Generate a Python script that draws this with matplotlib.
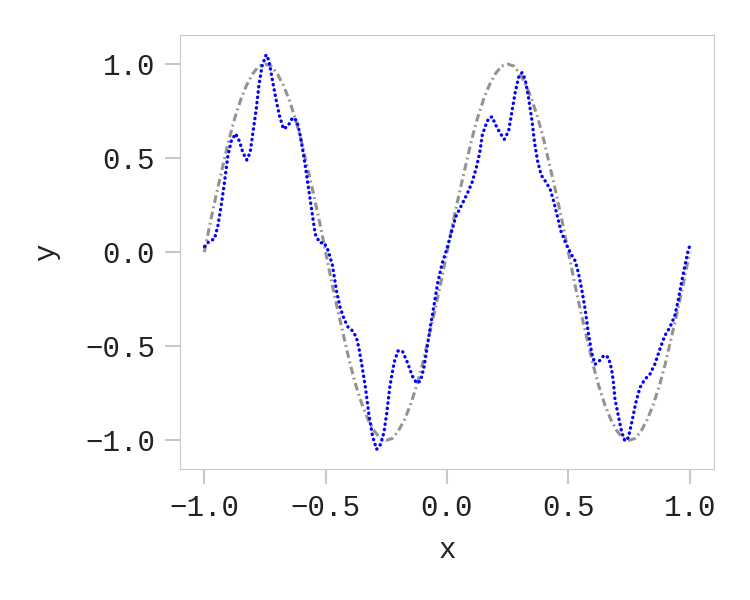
import matplotlib.pyplot as plt

plt.rcParams["font.family"] = ["Liberation Mono", "DejaVu Sans Mono"]

# true curve, read every 0.025 along x
true_x = [-1 + i * 0.025 for i in range(81)]
true_y = [0.00, 0.16, 0.31, 0.45, 0.59, 0.71, 0.81, 0.89, 0.95, 0.99,
          1.00, 0.99, 0.95, 0.89, 0.81, 0.71, 0.59, 0.45, 0.31, 0.16,
          0.00, -0.16, -0.31, -0.45, -0.59, -0.71, -0.81, -0.89, -0.95, -0.99,
          -1.00, -0.99, -0.95, -0.89, -0.81, -0.71, -0.59, -0.45, -0.31, -0.16,
          0.00, 0.16, 0.31, 0.45, 0.59, 0.71, 0.81, 0.89, 0.95, 0.99,
          1.00, 0.99, 0.95, 0.89, 0.81, 0.71, 0.59, 0.45, 0.31, 0.16,
          0.00, -0.16, -0.31, -0.45, -0.59, -0.71, -0.81, -0.89, -0.95, -0.99,
          -1.00, -0.99, -0.95, -0.89, -0.81, -0.71, -0.59, -0.45, -0.31, -0.16,
          0.00]

# fitted curve (blue dots)
fit_x = [-0.999, -0.978, -0.958, -0.944, -0.930, -0.917, -0.903, -0.889, -0.871, -0.855,
         -0.841, -0.825, -0.811, -0.798, -0.786, -0.775, -0.762, -0.745, -0.734, -0.720,
         -0.704, -0.690, -0.674, -0.656, -0.636, -0.619, -0.606, -0.595, -0.584, -0.570,
         -0.556, -0.543, -0.524, -0.506, -0.490, -0.472, -0.454, -0.440, -0.424, -0.407,
         -0.389, -0.373, -0.362, -0.348, -0.335, -0.321, -0.307, -0.290, -0.273, -0.260,
         -0.248, -0.235, -0.218, -0.202, -0.184, -0.163, -0.143, -0.125, -0.109, -0.095,
         -0.081, -0.068, -0.054, -0.038, -0.020, 0.000, 0.035, 0.062, 0.083, 0.103,
         0.121, 0.135, 0.145, 0.158, 0.172, 0.186, 0.199, 0.217, 0.236, 0.254,
         0.268, 0.281, 0.295, 0.309, 0.322, 0.336, 0.350, 0.361, 0.373, 0.388,
         0.409, 0.425, 0.439, 0.453, 0.469, 0.491, 0.511, 0.528, 0.541, 0.555,
         0.569, 0.582, 0.596, 0.610, 0.628, 0.647, 0.665, 0.678, 0.685, 0.692,
         0.706, 0.720, 0.733, 0.747, 0.761, 0.778, 0.795, 0.815, 0.836, 0.856,
         0.877, 0.897, 0.918, 0.938, 0.952, 0.966, 0.980, 0.993, 1.000]
fit_y = [0.03, 0.06, 0.07, 0.14, 0.25, 0.37, 0.51, 0.59, 0.63, 0.59,
         0.53, 0.49, 0.53, 0.65, 0.76, 0.885, 0.99, 1.05, 1.02, 0.92,
         0.81, 0.725, 0.655, 0.67, 0.715, 0.70, 0.63, 0.55, 0.46, 0.335,
         0.21, 0.096, 0.05, 0.05, 0.01, -0.07, -0.214, -0.294, -0.356, -0.40,
         -0.418, -0.454, -0.516, -0.622, -0.729, -0.871, -0.977, -1.048, -1.021, -0.959,
         -0.853, -0.711, -0.587, -0.525, -0.525, -0.587, -0.658, -0.697, -0.684, -0.613,
         -0.498, -0.392, -0.286, -0.161, -0.06, 0.02, 0.185, 0.255, 0.31, 0.37,
         0.45, 0.53, 0.62, 0.67, 0.713, 0.72, 0.68, 0.637, 0.60, 0.645,
         0.75, 0.85, 0.93, 0.955, 0.92, 0.82, 0.70, 0.58, 0.486, 0.41,
         0.37, 0.335, 0.273, 0.20, 0.113, 0.043, -0.01, -0.046, -0.108, -0.197,
         -0.303, -0.427, -0.534, -0.596, -0.578, -0.548, -0.56, -0.622, -0.684, -0.782,
         -0.87, -0.959, -1.004, -0.986, -0.906, -0.80, -0.72, -0.676, -0.649, -0.596,
         -0.516, -0.445, -0.40, -0.339, -0.259, -0.161, -0.073, 0.007, 0.034]

fig = plt.figure(figsize=(7.5, 6), dpi=100)
ax = fig.add_axes([0.24, 0.2183, 0.712, 0.7234])

ax.plot(true_x, true_y, color="gray", linestyle=(0, (2.5, 1.2, 0.6, 1.2)),
        linewidth=2.2, alpha=0.85)
ax.plot(fit_x, fit_y, color="blue", linestyle=(0, (0.1, 1.5)),
        linewidth=2.4, dash_capstyle="round")

ax.set_xticks([-1.0, -0.5, 0.0, 0.5, 1.0])
ax.set_yticks([-1.0, -0.5, 0.0, 0.5, 1.0])
ax.set_xlabel("x", fontsize=21, labelpad=10, color="#222222")
ax.set_ylabel("y", fontsize=21, labelpad=18, color="#222222")
ax.tick_params(labelsize=21, length=11, width=1.5, color="#c8c8c8", pad=7,
               labelcolor="#222222")
for s in ax.spines.values():
    s.set_color("#c8c8c8")

fig.savefig("out.png", dpi=100)
